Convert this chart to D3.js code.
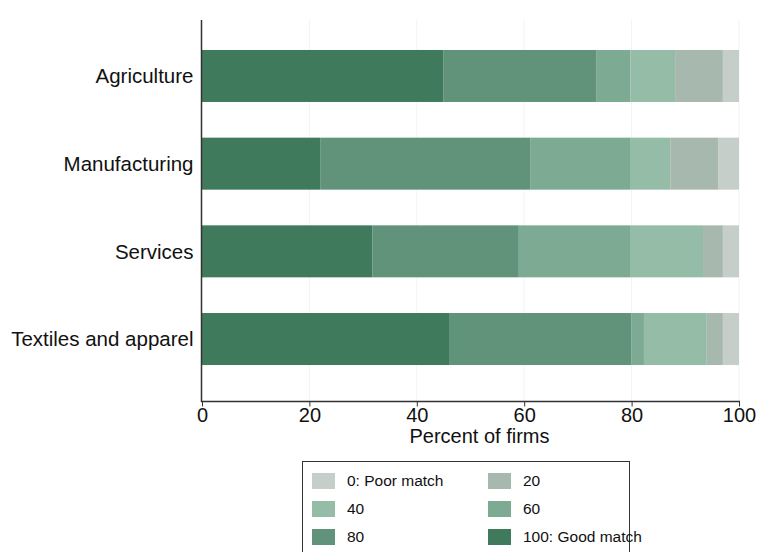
<!DOCTYPE html>
<html>
<head>
<meta charset="utf-8">
<script src="https://cdn.jsdelivr.net/npm/d3@7"></script>
<style>
  html, body { margin: 0; padding: 0; background: #ffffff; }
  svg { display: block; }
</style>
</head>
<body>
<svg id="chart" width="758" height="552"></svg>
<script>
// ---- data ----
const categories = ["Agriculture", "Manufacturing", "Services", "Textiles and apparel"];
// match levels, stacked left-to-right from 100 (good) to 0 (poor)
const levels = ["100", "80", "60", "40", "20", "0"];
const share100 = [45.0, 22.0, 31.7, 46.0];
const share80  = [28.5, 39.1, 27.3, 34.0];
const share60  = [6.3, 18.6, 20.7, 2.3];
const share40  = [8.3, 7.5, 13.6, 11.7];
const share20  = [8.9, 9.0, 3.7, 3.0];
const share0   = [3.0, 3.8, 3.0, 3.0];
const legendLabels = ["0: Poor match", "20", "40", "60", "80", "100: Good match"];
const legendLevels = ["0", "20", "40", "60", "80", "100"];
const xTicks = [0, 20, 40, 60, 80, 100];
const xTitle = "Percent of firms";

// ---- build table ----
const seriesByLevel = { "100": share100, "80": share80, "60": share60, "40": share40, "20": share20, "0": share0 };
const table = categories.map((c, i) => {
  const row = { category: c };
  levels.forEach(l => { row[l] = seriesByLevel[l][i]; });
  return row;
});

const colors = {
  "100": "#3f7a5c",
  "80":  "#60937a",
  "60":  "#7caa92",
  "40":  "#95bca7",
  "20":  "#a7b9ae",
  "0":   "#c5cec9"
};

const FONT = "Liberation Sans, Arial, Helvetica, sans-serif";
const svg = d3.select("#chart");

const x = d3.scaleLinear().domain([0, 100]).range([202, 739]);
const y = d3.scaleBand().domain(categories).range([32, 383]).paddingInner(0.407).paddingOuter(0.205);

// faint gridlines
svg.append("g").selectAll("line").data(xTicks.slice(1)).join("line")
  .attr("x1", d => x(d)).attr("x2", d => x(d))
  .attr("y1", 20).attr("y2", 401)
  .attr("stroke", "#f3f3f3").attr("stroke-width", 1);

const stacked = d3.stack().keys(levels)(table);

svg.append("g").selectAll("g").data(stacked).join("g")
  .attr("fill", d => colors[d.key])
  .selectAll("rect").data(d => d).join("rect")
  .attr("x", d => x(d[0]))
  .attr("width", d => x(d[1]) - x(d[0]))
  .attr("y", d => y(d.data.category))
  .attr("height", y.bandwidth());

// y axis
const yAxis = svg.append("g").attr("transform", "translate(201.5,0)");
yAxis.append("line").attr("x1", 0).attr("x2", 0).attr("y1", 20).attr("y2", 402)
  .attr("stroke", "#333").attr("stroke-width", 1.5);
yAxis.selectAll("text").data(categories).join("text")
  .attr("x", -8)
  .attr("y", d => y(d) + y.bandwidth() / 2)
  .attr("dy", "0.35em")
  .attr("text-anchor", "end")
  .attr("font-family", FONT)
  .attr("font-size", 20.5)
  .attr("fill", "#111")
  .text(d => d);

// x axis
const xAxisG = svg.append("g").attr("transform", "translate(0,401.5)")
  .call(d3.axisBottom(x).tickValues(xTicks).tickSize(5).tickPadding(3).tickFormat(d3.format("d")));
xAxisG.select(".domain").attr("stroke", "#333").attr("stroke-width", 1.5).attr("d", "M201,0H740");
xAxisG.selectAll(".tick line").attr("stroke", "#333");
xAxisG.selectAll(".tick text")
  .attr("font-family", FONT)
  .attr("font-size", 20)
  .attr("fill", "#111")
  .attr("dy", null)
  .attr("y", 20.5);

svg.append("text")
  .attr("x", (x(0) + x(100)) / 2 + 9)
  .attr("y", 443)
  .attr("text-anchor", "middle")
  .attr("font-family", FONT)
  .attr("font-size", 20)
  .attr("fill", "#111")
  .text(xTitle);

// legend
const lg = svg.append("g");
lg.append("rect").attr("x", 302.5).attr("y", 461.5).attr("width", 327).attr("height", 100)
  .attr("fill", "#fff").attr("stroke", "#333").attr("stroke-width", 1);
const items = lg.selectAll("g.item").data(legendLevels).join("g").attr("class", "item")
  .attr("transform", (d, i) => `translate(${i % 2 === 0 ? 312 : 488},${473 + Math.floor(i / 2) * 28})`);
items.append("rect").attr("width", 23).attr("height", 16).attr("fill", d => colors[d]);
items.append("text").attr("x", 35).attr("y", 8).attr("dy", "0.35em")
  .attr("font-family", FONT).attr("font-size", 15.5).attr("fill", "#111")
  .text((d, i) => legendLabels[i]);
</script>
</body>
</html>
